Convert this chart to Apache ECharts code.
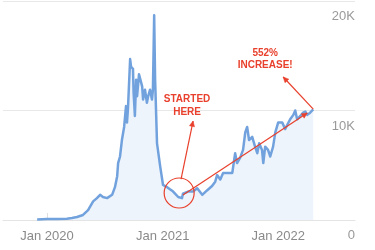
<!DOCTYPE html>
<html>
<head>
<meta charset="utf-8">
<script src="https://cdn.jsdelivr.net/npm/echarts@6/dist/echarts.min.js"></script>
<style>
html,body{margin:0;padding:0;background:#fff;}
#c{width:375px;height:250px;}
</style>
</head>
<body>
<div id="c"></div>
<script>
const dates = [
'2019-12-01','2020-01-01','2020-02-01','2020-03-04','2020-03-20','2020-04-05','2020-04-24','2020-05-10','2020-05-26','2020-06-07',
'2020-06-17','2020-06-26','2020-07-09','2020-07-25','2020-08-03','2020-08-10','2020-08-13','2020-08-19','2020-08-25','2020-09-01',
'2020-09-07','2020-09-10','2020-09-13','2020-09-20','2020-09-23','2020-09-29','2020-10-01','2020-10-05','2020-10-09','2020-10-12',
'2020-10-18','2020-10-28','2020-10-31','2020-11-06','2020-11-12','2020-11-16','2020-11-22','2020-11-28','2020-12-01','2020-12-05',
'2020-12-08','2020-12-14','2020-12-24','2021-01-02','2021-01-15','2021-01-24','2021-02-03','2021-02-19','2021-03-03','2021-03-06',
'2021-03-22','2021-04-07','2021-04-20','2021-05-06','2021-05-21','2021-06-06','2021-06-16','2021-06-22','2021-07-02','2021-07-11',
'2021-07-24','2021-08-09','2021-08-18','2021-08-24','2021-09-03','2021-09-12','2021-09-19','2021-09-25','2021-10-01','2021-10-11',
'2021-10-20','2021-10-27','2021-11-02','2021-11-11','2021-11-15','2021-11-21','2021-11-30','2021-12-07','2021-12-16','2021-12-23',
'2022-01-01','2022-01-14','2022-01-23','2022-01-30','2022-02-08','2022-02-18','2022-02-24','2022-03-02','2022-03-12','2022-03-21',
'2022-03-28','2022-04-03','2022-04-12','2022-04-22'
];
const values = [
50,80,100,120,180,270,460,900,1700,2000,
2300,2100,2000,2300,3000,4000,5200,5800,7300,8500,
10400,8900,10100,14700,14000,13800,11600,9500,12800,11300,
13300,12200,11000,11900,10700,11300,11900,11000,11900,18700,
12800,7000,4900,3200,3000,2800,2600,2100,2000,2400,
2600,2600,2900,2300,2700,3100,3500,4100,3700,4300,
4300,4300,6100,5200,5700,6400,8000,8500,7300,7600,
6700,6100,7000,6400,5200,6700,6400,5800,6700,8000,
8900,8900,8300,8700,9200,9600,10000,9200,9500,9800,
9900,9600,9800,10100
];
const yTicks = [0, 10000, 20000];
const xTickDates = ['2020-01-01','2021-01-01','2022-01-01'];
const xTickLabels = ['Jan 2020','Jan 2021','Jan 2022'];

const RED = '#e8402c';
const FONT = 'Liberation Sans, Arial, Helvetica, sans-serif';
const ts = s => new Date(s + 'T00:00:00Z').getTime();
const seriesData = dates.map((d, i) => [ts(d), values[i]]);
const xTickTs = xTickDates.map(ts);

const chart = echarts.init(document.getElementById('c'), null, {renderer: 'canvas'});
chart.setOption({
  animation: false,
  backgroundColor: '#fff',
  grid: {left: 3, right: 20, top: 1, bottom: 30, containLabel: false},
  xAxis: {
    type: 'value',
    min: ts('2019-08-15'),
    max: ts('2022-09-01'),
    axisLine: {show: true, lineStyle: {color: '#e4e4e4', width: 1}},
    axisTick: {show: true, inside: true, length: 7, customValues: xTickTs, lineStyle: {color: '#e0e0e0'}},
    axisLabel: {
      show: true, customValues: xTickTs, margin: 10,
      color: '#8a8a8a', fontSize: 13, fontFamily: FONT,
      formatter: v => { const i = xTickTs.indexOf(v); return i >= 0 ? xTickLabels[i] : ''; }
    },
    splitLine: {show: false}
  },
  yAxis: {
    type: 'value',
    position: 'right',
    min: yTicks[0], max: yTicks[yTicks.length - 1], interval: yTicks[1] - yTicks[0],
    axisLine: {show: false},
    axisTick: {show: false},
    splitLine: {show: true, lineStyle: {color: '#e8e8e8', width: 1}},
    axisLabel: {
      inside: true, margin: 0, align: 'right', verticalAlign: 'top', padding: [9, 0, 0, 0],
      color: '#999', fontSize: 13, fontFamily: FONT,
      formatter: v => v === 0 ? '0' : (v / 1000) + 'K'
    }
  },
  series: [{
    type: 'line',
    data: seriesData,
    showSymbol: false,
    smooth: false,
    lineStyle: {color: '#72a2dd', width: 2.5, join: 'round'},
    itemStyle: {color: '#72a2dd'},
    areaStyle: {color: '#eef4fc', opacity: 1}
  }]
});

// annotations anchored in data space
const P = (d, v) => chart.convertToPixel({gridIndex: 0}, [ts(d), v]);
function arrow(a, b, head) {
  const ang = Math.atan2(b[1] - a[1], b[0] - a[0]);
  const h = head || 6, w = 0.45;
  const p1 = [b[0] - h * Math.cos(ang - w), b[1] - h * Math.sin(ang - w)];
  const p2 = [b[0] - h * Math.cos(ang + w), b[1] - h * Math.sin(ang + w)];
  return [
    {type: 'line', z: 100, shape: {x1: a[0], y1: a[1], x2: b[0], y2: b[1]}, style: {stroke: RED, lineWidth: 1.2}},
    {type: 'polygon', z: 100, shape: {points: [b, p1, p2]}, style: {fill: RED, stroke: RED, lineWidth: 0.5}}
  ];
}
const circ = P('2021-02-22', 2465);
const t1 = P('2021-03-19', 10410);
const t2 = P('2021-11-21', 14700);
const g = [];
g.push({type: 'circle', z: 100, shape: {cx: circ[0], cy: circ[1], r: 15}, style: {fill: 'transparent', stroke: RED, lineWidth: 1.2}});
g.push(...arrow(P('2021-02-28', 3743), P('2021-04-07', 9040)));
g.push(...arrow(P('2021-03-06', 2283), P('2022-04-03', 9770)));
g.push(...arrow(P('2022-04-22', 10130), P('2022-01-17', 13060)));
g.push({type: 'text', z: 100, x: t1[0], y: t1[1], style: {text: 'STARTED\nHERE', fill: RED, font: 'bold 10px ' + FONT, align: 'center', verticalAlign: 'middle', lineHeight: 13}});
g.push({type: 'text', z: 100, x: t2[0], y: t2[1], style: {text: '552%\nINCREASE!', fill: RED, font: 'bold 10px ' + FONT, align: 'center', verticalAlign: 'middle', lineHeight: 12}});
chart.setOption({graphic: g});
</script>
</body>
</html>
